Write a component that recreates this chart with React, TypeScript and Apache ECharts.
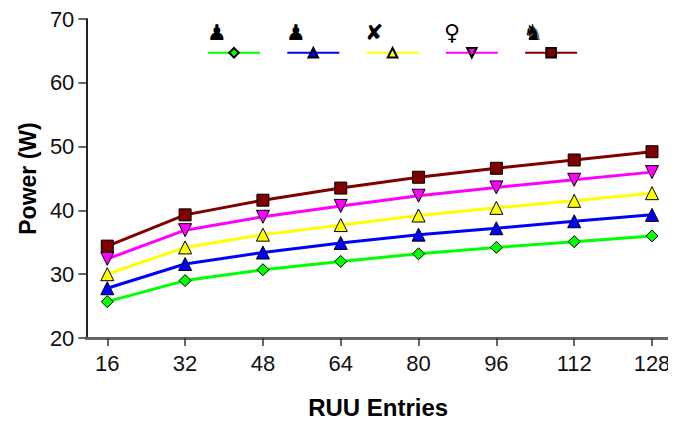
import React, { useEffect, useRef } from "react";
import * as echarts from "echarts";

const xValues = [16, 32, 48, 64, 80, 96, 112, 128];
const seriesNames = ["♟", "♟ ", "✘", "♀", "♞"];
const seriesColors = ["#00ff00", "#0000ff", "#ffff00", "#ff00ff", "#800000"];
const seriesSymbols = ["diamond", "triangle", "triangle", "triangle", "rect"];
const seriesRotate = [0, 0, 0, 180, 0];
const greenVals = [25.7, 29.0, 30.7, 32.0, 33.2, 34.2, 35.1, 36.0];
const blueVals = [27.8, 31.6, 33.4, 34.9, 36.2, 37.2, 38.3, 39.3];
const yellowVals = [30.0, 34.2, 36.2, 37.7, 39.2, 40.4, 41.5, 42.7];
const magentaVals = [32.4, 36.9, 39.0, 40.7, 42.3, 43.6, 44.8, 46.0];
const darkRedVals = [34.4, 39.3, 41.6, 43.5, 45.2, 46.6, 47.9, 49.2];
const allVals = [greenVals, blueVals, yellowVals, magentaVals, darkRedVals];

export default function App() {
  const ref = useRef<HTMLDivElement>(null);
  useEffect(() => {
    const chart = echarts.init(ref.current!, null, { renderer: "svg" });
    const font = "'Liberation Sans', Arial, sans-serif";
    chart.setOption({
      animation: false,
      backgroundColor: "#ffffff",
      textStyle: { fontFamily: font },
      grid: { left: 75, right: 6, top: 9, bottom: 84, containLabel: false },
      legend: {
        top: 34,
        left: 194,
        itemWidth: 52,
        itemHeight: 12,
        itemGap: 21,
        data: seriesNames,
        textStyle: { color: "#000", fontSize: 1 },
        formatter: () => " ",
      },
      graphic: seriesNames.map((n, i) => ({
        type: "text",
        left: 199 + i * 79,
        top: 13,
        style: { text: n.trim(), fill: "#000", font: "bold 22px 'DejaVu Sans'" },
      })),
      xAxis: {
        type: "value",
        min: 11.7,
        max: 131.7,
        name: "RUU Entries",
        nameLocation: "middle",
        nameGap: 57,
        nameTextStyle: { fontSize: 24, fontWeight: "bold", color: "#000", fontFamily: font },
        splitLine: { show: false },
        axisLine: { lineStyle: { color: "#666", width: 3 } },
        axisTick: { customValues: xValues, length: 8, lineStyle: { color: "#333", width: 1.5 } },
        axisLabel: { customValues: xValues, fontSize: 22, color: "#111", margin: 14, fontFamily: font },
      },
      yAxis: {
        type: "value",
        min: 20,
        max: 70,
        interval: 10,
        name: "Power (W)",
        nameLocation: "middle",
        nameGap: 46,
        nameTextStyle: { fontSize: 23, fontWeight: "bold", color: "#000", fontFamily: font },
        splitLine: { show: false },
        axisLine: { show: true, lineStyle: { color: "#222", width: 2 } },
        axisTick: { show: true, length: 8, lineStyle: { color: "#333", width: 1.5 } },
        axisLabel: { fontSize: 22, color: "#111", margin: 12, fontFamily: font },
      },
      series: seriesNames.map((n, i) => ({
        name: n,
        type: "line",
        data: xValues.map((x, j) => [x, allVals[i][j]]),
        symbol: seriesSymbols[i],
        symbolRotate: seriesRotate[i],
        symbolSize: i === 4 ? 12 : i === 0 ? 12 : 13,
        lineStyle: { color: seriesColors[i], width: 3 },
        itemStyle: { color: seriesColors[i], borderColor: "#000", borderWidth: 1 },
      })),
    });
    return () => chart.dispose();
  }, []);
  return <div ref={ref} style={{ width: 668, height: 416 }} />;
}
